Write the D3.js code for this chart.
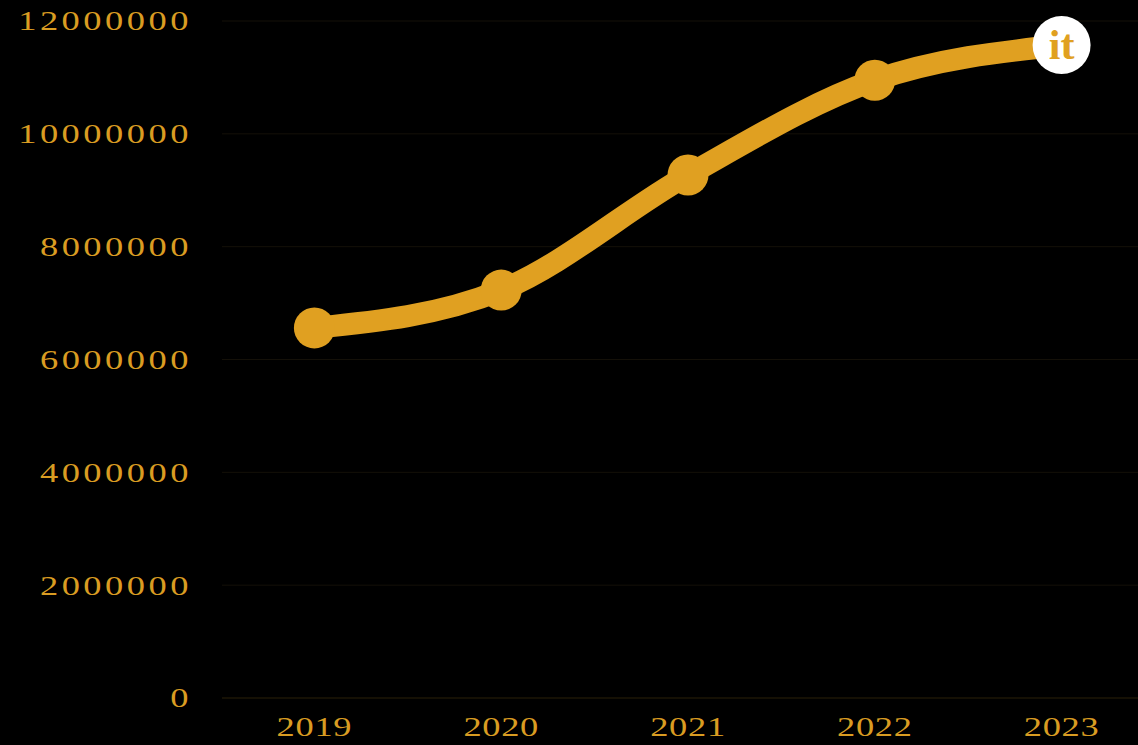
<!DOCTYPE html>
<html>
<head>
<meta charset="utf-8">
<script src="https://cdn.jsdelivr.net/npm/d3@7"></script>
<style>
  html, body { margin: 0; padding: 0; background: #000; overflow: hidden; }
  svg { display: block; }
  .tick-label { font-family: "Liberation Serif", "DejaVu Serif", serif; fill: #d99c22; }
</style>
</head>
<body>
<script>
// data
const years = ['2019', '2020', '2021', '2022', '2023'];
const values = [6560000, 7230000, 9270000, 10950000, 11570000];
const yTicks = [0, 2000000, 4000000, 6000000, 8000000, 10000000, 12000000];

const width = 1138;
const height = 745;
const gold = '#e0a021';

let svg = d3.select('body')
  .append('svg')
  .attr('width', width)
  .attr('height', height);

svg.append('rect')
  .attr('width', width)
  .attr('height', height)
  .attr('fill', '#000');

let x = d3.scalePoint()
  .domain(years)
  .range([221, 1155])
  .padding(0.5);

let y = d3.scaleLinear()
  .domain([0, 12000000])
  .range([698, 21]);

// grid lines
svg.append('g')
  .selectAll('line')
  .data(yTicks)
  .enter()
  .append('line')
  .attr('x1', 222)
  .attr('x2', width)
  .attr('y1', d => y(d))
  .attr('y2', d => y(d))
  .attr('stroke', d => d === 0 ? '#2b2108' : '#141008')
  .attr('stroke-width', 1);

// y labels (font stretched sideways to get the wide round figures)
svg.append('g')
  .selectAll('g')
  .data(yTicks)
  .enter()
  .append('g')
  .attr('transform', d => `translate(192, ${y(d)}) scale(1.35, 1)`)
  .append('text')
  .attr('class', 'tick-label')
  .attr('dy', '0.35em')
  .attr('text-anchor', 'end')
  .style('font-size', '27px')
  .style('letter-spacing', '2.6px')
  .text(d => d);

// x labels
svg.append('g')
  .selectAll('g')
  .data(years)
  .enter()
  .append('g')
  .attr('transform', d => `translate(${x(d)}, 736) scale(1.35, 1)`)
  .append('text')
  .attr('class', 'tick-label')
  .attr('text-anchor', 'middle')
  .style('font-size', '27px')
  .style('letter-spacing', '0.5px')
  .text(d => d);

// line
let line = d3.line()
  .x((d, i) => x(years[i]))
  .y(d => y(d))
  .curve(d3.curveMonotoneX);

svg.append('path')
  .datum(values)
  .attr('d', line)
  .attr('fill', 'none')
  .attr('stroke', gold)
  .attr('stroke-width', 22)
  .attr('stroke-linecap', 'round');

svg.append('g')
  .selectAll('circle')
  .data(values)
  .enter()
  .append('circle')
  .attr('cx', (d, i) => x(years[i]))
  .attr('cy', d => y(d))
  .attr('r', 20.5)
  .attr('fill', gold);

// logo
let logo = svg.append('g')
  .attr('transform', `translate(${x('2023')}, 45)`);

logo.append('circle')
  .attr('r', 29)
  .attr('fill', '#fff');

logo.append('text')
  .attr('y', 14)
  .attr('text-anchor', 'middle')
  .style('font-family', '"Liberation Serif", serif')
  .style('font-size', '42px')
  .style('font-weight', 'bold')
  .style('fill', gold)
  .text('it');
</script>
</body>
</html>
